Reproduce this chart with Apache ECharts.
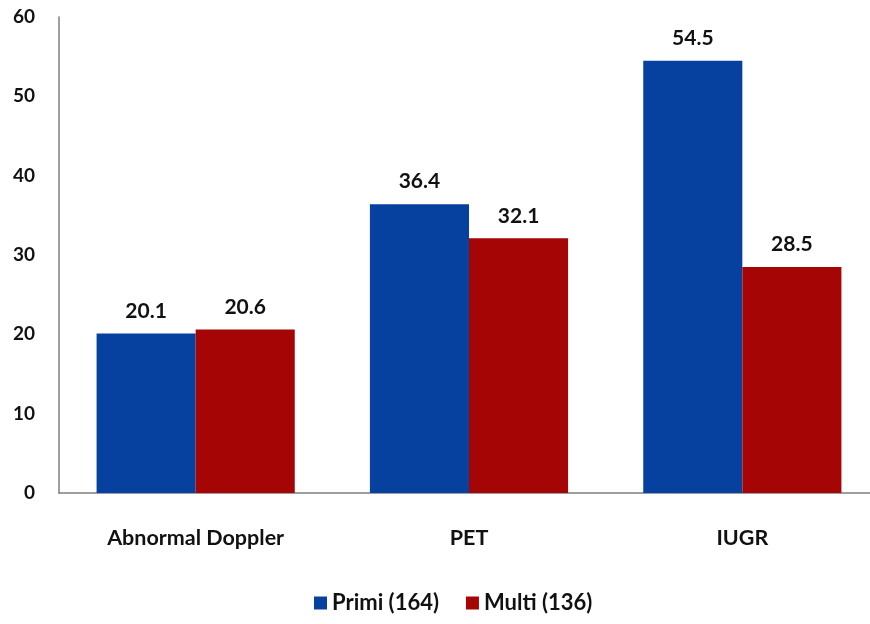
<!DOCTYPE html>
<html><head><meta charset="utf-8">
<script src="https://cdn.jsdelivr.net/npm/echarts@6/dist/echarts.min.js"></script>
<style>html,body{margin:0;padding:0;background:#fff}#c{width:870px;height:624px}</style>
</head><body><div id="c"></div>
<script>
const categories = ["Abnormal Doppler", "PET", "IUGR"];
const primi = [20.1, 36.4, 54.5];
const multi = [20.6, 32.1, 28.5];
const seriesNames = ["Primi (164)", "Multi (136)"];
const yTicks = [0, 10, 20, 30, 40, 50, 60];

const font = "Lato";
const chart = echarts.init(document.getElementById('c'));
const lbl = {show:true, position:'top', distance:12, color:'#111', fontFamily:font, fontSize:21, fontWeight:'bold'};
chart.setOption({
  animation:false,
  textStyle:{fontFamily:font},
  grid:{left:59, top:17, width:820, bottom:131, containLabel:false, outerBoundsMode:'none'},
  legend:{bottom:5, left:309, itemWidth:13, itemHeight:13, itemGap:27,
    icon:'rect', textStyle:{fontFamily:font, fontSize:22, fontWeight:'bold', color:'#111'}},
  xAxis:{type:'category', data:categories,
    axisLine:{lineStyle:{color:'#7f7f7f', width:1.5}}, axisTick:{show:false},
    axisLabel:{color:'#111', fontFamily:font, fontSize:21.5, fontWeight:'bold', margin:34}},
  yAxis:{type:'value', min:yTicks[0], max:yTicks[yTicks.length-1], interval:10,
    splitLine:{show:false}, axisTick:{show:false},
    axisLine:{show:true, lineStyle:{color:'#7f7f7f', width:1.5}},
    axisLabel:{color:'#111', fontFamily:font, fontSize:19, fontWeight:'bold', margin:24}},
  series:[
    {name:seriesNames[0], type:'bar', data:primi, barGap:'0%', barCategoryGap:'27.5%',
     itemStyle:{color:'#0641a0'}, label:lbl},
    {name:seriesNames[1], type:'bar', data:multi,
     itemStyle:{color:'#a60505'}, label:lbl}
  ]
});
</script></body></html>
